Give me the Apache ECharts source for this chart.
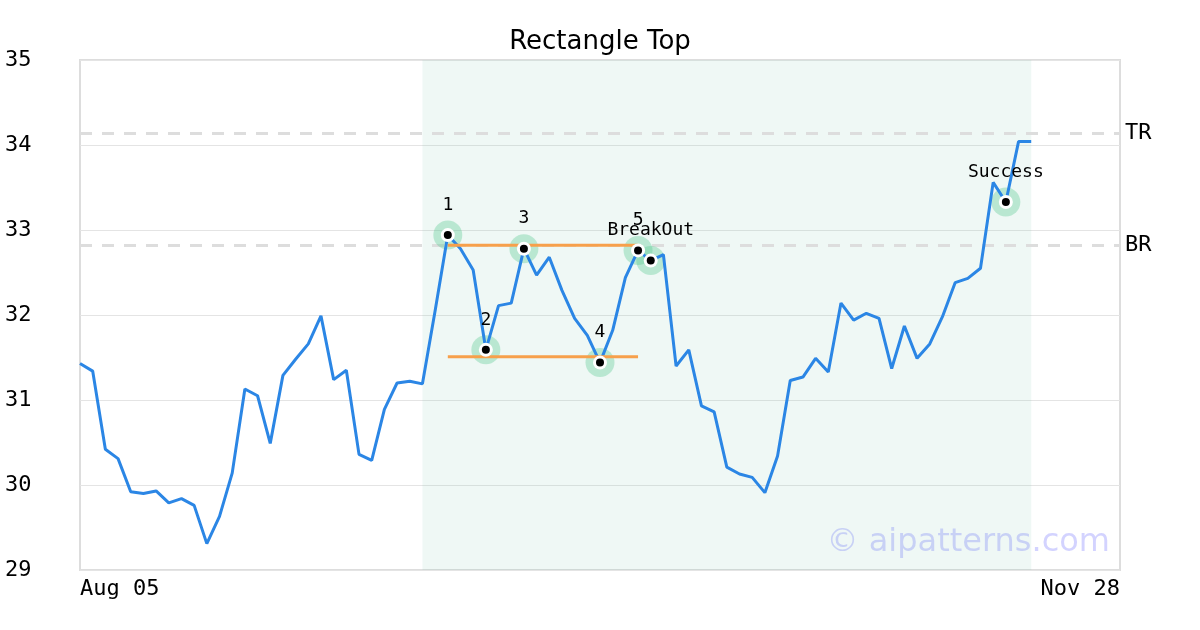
<!DOCTYPE html>
<html>
<head>
<meta charset="utf-8">
<title>Rectangle Top</title>
<script src="https://cdn.jsdelivr.net/npm/echarts@6/dist/echarts.min.js"></script>
<style>
  html, body { margin: 0; padding: 0; background: #fff; }
  #chart { width: 1200px; height: 630px; }
</style>
</head>
<body>
<div id="chart"></div>
<script>
// closing prices, one per trading day from Aug 05
const closes = [
  31.43, 31.34, 30.42, 30.31, 29.92, 29.90, 29.93, 29.79, 29.84, 29.76,
  29.31, 29.63, 30.14, 31.13, 31.05, 30.49, 31.29, 31.48, 31.66, 31.99,
  31.24, 31.35, 30.36, 30.29, 30.89, 31.20, 31.22, 31.19, 32.05, 32.94,
  32.78, 32.53, 31.59, 32.11, 32.14, 32.78, 32.47, 32.68, 32.29, 31.96,
  31.76, 31.44, 31.82, 32.44, 32.76, 32.64, 32.71, 31.40, 31.59, 30.93,
  30.86, 30.21, 30.13, 30.09, 29.91, 30.34, 31.23, 31.27, 31.49, 31.33,
  32.14, 31.94, 32.02, 31.96, 31.37, 31.87, 31.49, 31.66, 31.98, 32.38,
  32.43, 32.55, 33.56, 33.33, 34.04, 34.04
]
// x axis runs a few days past the last close
const dayCount = 83
const tickLabels = ['Aug 05', 'Nov 28']

// pattern points (index into closes) and their labels
const pointIdx = [29, 32, 35, 41, 44, 45, 73]
const pointLabels = ['1', '2', '3', '4', '5', 'BreakOut', 'Success']

// rectangle bounds and pattern window
const topLevel = 32.82
const bottomLevel = 31.51
const rectStart = 29
const rectEnd = 44
const patternStart = 27
const patternEnd = 75
const levels = [{ name: 'TR', value: 34.14 }, { name: 'BR', value: 32.82 }]

const days = []
for (let i = 0; i < dayCount; i++) {
  days.push(i === 0 ? tickLabels[0] : (i === dayCount - 1 ? tickLabels[1] : 'd' + i))
}

const markers = pointIdx.map((idx, k) => ({ value: [idx, closes[idx]], name: pointLabels[k] }))

const mono = 'DejaVu Sans Mono'
const chart = echarts.init(document.getElementById('chart'))

chart.setOption({
  animation: false,
  title: {
    text: 'Rectangle Top',
    left: 'center',
    top: 24,
    textStyle: { fontFamily: 'DejaVu Sans', fontSize: 26, fontWeight: 'normal', color: '#000' }
  },
  grid: {
    left: 80, right: 80, top: 60, bottom: 60,
    show: true, borderColor: '#dddddd', borderWidth: 2, backgroundColor: 'transparent'
  },
  xAxis: {
    type: 'category',
    data: days,
    boundaryGap: false,
    axisLine: { show: false },
    axisTick: { show: false },
    splitLine: { show: false },
    axisLabel: {
      interval: 0,
      margin: 8,
      fontFamily: mono,
      fontSize: 22,
      color: '#000',
      alignMinLabel: 'left',
      alignMaxLabel: 'right',
      formatter: (v) => (tickLabels.indexOf(v) >= 0 ? v : '')
    }
  },
  yAxis: {
    type: 'value',
    min: 29,
    max: 35,
    interval: 1,
    axisLine: { show: false },
    axisTick: { show: false },
    splitLine: { lineStyle: { color: '#e4e4e4', width: 1 } },
    axisLabel: { fontFamily: mono, fontSize: 22, color: '#000', align: 'left', margin: 75, padding: [8, 0, 0, 0] }
  },
  graphic: [{
    type: 'text',
    z: 1,
    style: {
      x: 1110, y: 543,
      text: '© aipatterns.com',
      align: 'right', verticalAlign: 'middle',
      font: '32px "DejaVu Sans"',
      fill: 'rgba(110, 110, 255, 0.3)'
    }
  }],
  series: [
    {
      // shaded pattern window and the TR / BR levels
      name: 'Levels',
      type: 'line',
      data: [],
      z: 1,
      markArea: {
        silent: true,
        z: 1,
        itemStyle: { color: 'rgba(110, 195, 160, 0.11)' },
        data: [[{ xAxis: patternStart }, { xAxis: patternEnd }]]
      },
      markLine: {
        silent: true,
        z: 1,
        symbol: 'none',
        lineStyle: { color: '#dddddd', type: [12, 10], width: 3 },
        label: { position: 'end', distance: 5, fontFamily: mono, fontSize: 22, color: '#000', formatter: (p) => p.name },
        data: levels.map(l => ({ yAxis: l.value, name: l.name }))
      }
    },
    {
      name: 'Halo',
      type: 'scatter',
      data: markers,
      symbolSize: 29,
      itemStyle: { color: 'rgba(80, 200, 140, 0.42)' },
      z: 2
    },
    {
      name: 'Close',
      type: 'line',
      data: closes,
      showSymbol: false,
      lineStyle: { color: '#2b86e5', width: 3 },
      itemStyle: { color: '#2b86e5' },
      z: 3
    },
    {
      name: 'Top',
      type: 'line',
      data: [[rectStart, topLevel], [rectEnd, topLevel]],
      showSymbol: false,
      lineStyle: { color: '#f7a04b', width: 3 },
      z: 3
    },
    {
      name: 'Bottom',
      type: 'line',
      data: [[rectStart, bottomLevel], [rectEnd, bottomLevel]],
      showSymbol: false,
      lineStyle: { color: '#f7a04b', width: 3 },
      z: 3
    },
    {
      name: 'Ring',
      type: 'scatter',
      data: markers,
      symbolSize: 14,
      itemStyle: { color: '#ffffff', opacity: 1 },
      z: 5
    },
    {
      name: 'Dot',
      type: 'scatter',
      data: markers,
      symbolSize: 8,
      itemStyle: { color: '#000000', opacity: 1 },
      z: 6,
      label: {
        show: true,
        position: 'top',
        distance: 17,
        fontFamily: mono,
        fontSize: 18,
        color: '#000',
        formatter: (p) => p.name
      }
    }
  ]
})
</script>
</body>
</html>
